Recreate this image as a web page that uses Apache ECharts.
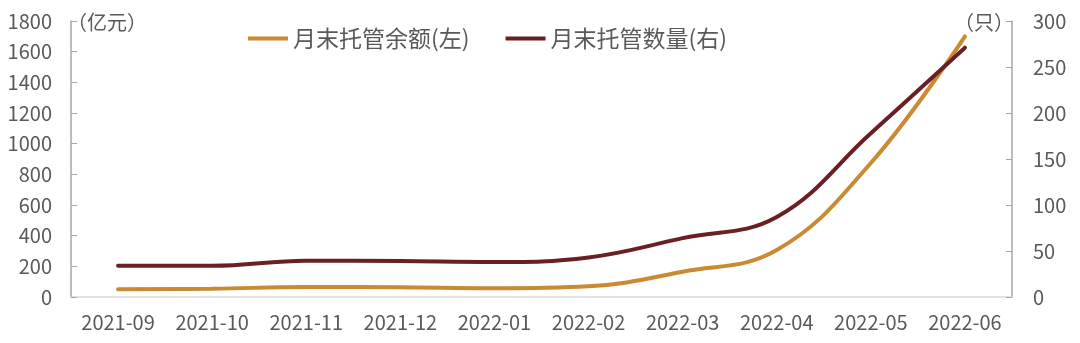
<!DOCTYPE html>
<html>
<head>
<meta charset="utf-8">
<style>html,body{margin:0;padding:0;background:#fff;}#c{width:1080px;height:343px;}</style>
<script src="https://cdn.jsdelivr.net/npm/echarts@6/dist/echarts.min.js"></script>
</head>
<body>
<div id="c"></div>
<script>
const categories = ['2021-09','2021-10','2021-11','2021-12','2022-01','2022-02','2022-03','2022-04','2022-05','2022-06'];
const balance = [50, 54, 65, 63, 57, 70, 165, 306, 874, 1700];   // 月末托管余额 (亿元)
const count = [34, 34, 39.5, 39, 38, 43, 64, 87, 178, 271];     // 月末托管数量 (只)
const leftTicks = [0, 1800, 200];
const rightTicks = [0, 300, 50];

const FONT = '"Noto Sans CJK SC", "Noto Sans", sans-serif';
const TXT = '#595959';
const plain = v => String(v);
const chart = echarts.init(document.getElementById('c'), null, {renderer: 'canvas'});
chart.setOption({
  animation: false,
  textStyle: {fontFamily: FONT},
  grid: {left: 71, right: 68, top: 21, bottom: 46, containLabel: false},
  legend: {
    top: 22, left: 243,
    itemWidth: 40, itemHeight: 4, itemGap: 36,
    icon: 'rect',
    textStyle: {fontSize: 23, color: TXT, fontFamily: FONT},
    data: ['月末托管余额(左)', '月末托管数量(右)']
  },
  xAxis: {
    type: 'category', data: categories, boundaryGap: true,
    axisLine: {lineStyle: {color: '#D9D9D9', width: 1.5}},
    axisTick: {inside: true, length: 6, lineStyle: {color: '#D0D0D0'}},
    axisLabel: {fontSize: 20, color: TXT, margin: 15, interval: 0, fontFamily: FONT}
  },
  yAxis: [{
    type: 'value', min: leftTicks[0], max: leftTicks[1], interval: leftTicks[2],
    name: '（亿元）', nameLocation: 'end', nameGap: -1,
    nameTextStyle: {fontSize: 20, color: TXT, align: 'left', verticalAlign: 'middle', fontFamily: FONT, padding: [0, 0, 0, -4]},
    axisLine: {show: true, lineStyle: {color: '#A6A6A6', width: 1.5}},
    axisTick: {show: true, inside: true, length: 6, lineStyle: {color: '#A6A6A6'}},
    splitLine: {show: false},
    axisLabel: {fontSize: 20, color: TXT, margin: 19, fontFamily: FONT, formatter: plain}
  }, {
    type: 'value', min: rightTicks[0], max: rightTicks[1], interval: rightTicks[2],
    name: '（只）', nameLocation: 'end', nameGap: -1,
    nameTextStyle: {fontSize: 20, color: TXT, align: 'right', verticalAlign: 'middle', fontFamily: FONT, padding: [0, -2, 0, 0]},
    axisLine: {show: true, lineStyle: {color: '#A6A6A6', width: 1.5}},
    axisTick: {show: true, inside: true, length: 6, lineStyle: {color: '#A6A6A6'}},
    splitLine: {show: false},
    axisLabel: {fontSize: 20, color: TXT, margin: 21, fontFamily: FONT, formatter: plain}
  }],
  series: [{
    name: '月末托管余额(左)', type: 'line', yAxisIndex: 0, data: balance,
    smooth: 0.4, showSymbol: false, symbol: 'none',
    lineStyle: {color: '#C98A32', width: 4, cap: 'round'}, itemStyle: {color: '#C98A32'}
  }, {
    name: '月末托管数量(右)', type: 'line', yAxisIndex: 1, data: count,
    smooth: 0.4, showSymbol: false, symbol: 'none',
    lineStyle: {color: '#6B1F25', width: 4, cap: 'round'}, itemStyle: {color: '#6B1F25'}
  }]
});
</script>
</body>
</html>
